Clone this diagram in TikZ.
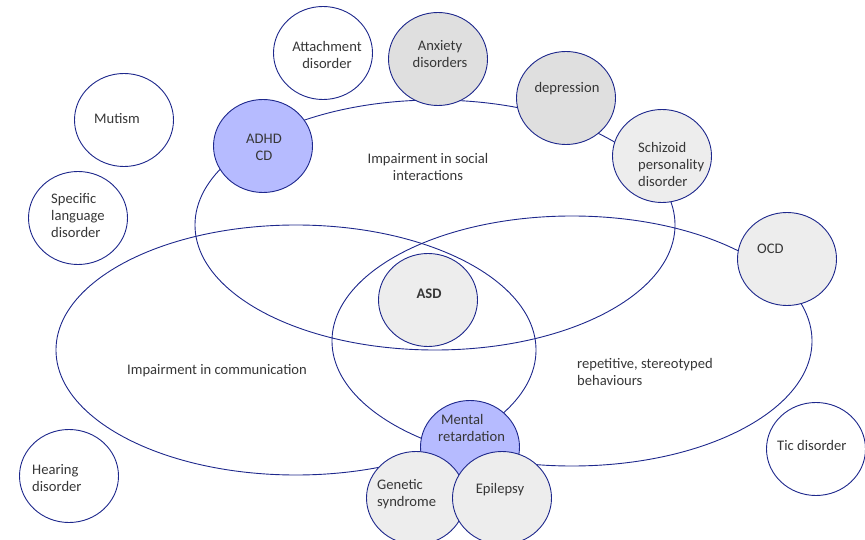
\documentclass[tikz,border=0pt]{standalone}
\usepackage{fontspec}
\setmainfont{Carlito}
\usetikzlibrary{shapes.geometric}
\definecolor{navy}{RGB}{30,40,140}
\definecolor{lav}{RGB}{182,187,255}
\definecolor{greyA}{RGB}{237,237,237}
\definecolor{greyB}{RGB}{223,223,223}
\definecolor{ink}{RGB}{55,55,55}
\tikzset{
  area/.style={ellipse, draw=navy, line width=0.9pt, minimum width=480pt, minimum height=250pt},
  dis/.style={ellipse, draw=navy, line width=0.9pt, fill=white, minimum width=99pt, minimum height=93pt},
  txt/.style={inner sep=0pt, text=ink, font=\fontsize{14.6}{17}\selectfont},
}
\begin{document}
\begin{tikzpicture}[x=1pt, y=-1pt]
            \useasboundingbox (0,0) rectangle (865,540);
            % Areas
            \node[area] (social) at (435,225) {};
            \node[area] (comm) at (296,350) {};
            \node[area] (rep) at (572,341) {};

            % Disorders
            \node[dis] (attach) at (323,53) {};
            \node[dis, fill=greyB] (anxiety) at (438,59) {};
            \node[dis, fill=lav] (adhd) at (263,146) {};
            \node[dis, fill=greyB] (depr) at (566,98) {};
            \node[dis, fill=greyA] (schiz) at (662,156) {};
            \node[dis] (mutism) at (124,120) {};
            \node[dis] (slang) at (78,218) {};
            \node[dis, fill=greyA] (ocd) at (787,259) {};
            \node[dis, fill=greyA] (asd) at (428,300) {};
            \node[dis, fill=lav] (mental) at (470,447) {};
            \node[dis, fill=greyA] (genetic) at (416,498) {};
            \node[dis, fill=greyA] (epil) at (502,498) {};
            \node[dis] (tic) at (816,449) {};
            \node[dis] (hearing) at (69,476) {};

            % Labels
            \node[txt, align=center] (t-attach) at (327,55) {Attachment\\disorder};
            \node[txt, align=center] (t-anxiety) at (440,54) {Anxiety\\disorders};
            \node[txt, align=center] (t-adhd) at (264,147) {ADHD\\CD};
            \node[txt, align=center] (t-social) at (428,167) {Impairment in social\\interactions};
            \node[txt] (t-depr) at (567,89) {depression};
            \node[txt, anchor=west, align=left] (t-schiz) at (638,164) {Schizoid\\personality\\disorder};
            \node[txt] (t-mutism) at (117,119) {Mutism};
            \node[txt, anchor=west, align=left] (t-slang) at (51,216) {Specific\\language\\disorder};
            \node[txt, anchor=west] (t-ocd) at (757,249) {OCD};
            \node[txt, font=\fontsize{14.6}{17}\selectfont\bfseries] (t-asd) at (429,294) {ASD};
            \node[txt, anchor=west] (t-comm) at (127,371) {Impairment in communication};
            \node[txt, anchor=west, align=left] (t-rep) at (577,372) {repetitive, stereotyped\\behaviours};
            \node[txt, anchor=west, align=left] (t-mental) at (438,428) {\hspace{3pt}Mental\\retardation};
            \node[txt, anchor=west, align=left] (t-genetic) at (377,494) {Genetic\\syndrome};
            \node[txt] (t-epil) at (500,490) {Epilepsy};
            \node[txt, anchor=west] (t-tic) at (777,445) {Tic disorder};
            \node[txt, anchor=west, align=left] (t-hearing) at (32,478) {Hearing\\disorder};
        \end{tikzpicture}
\end{document}
